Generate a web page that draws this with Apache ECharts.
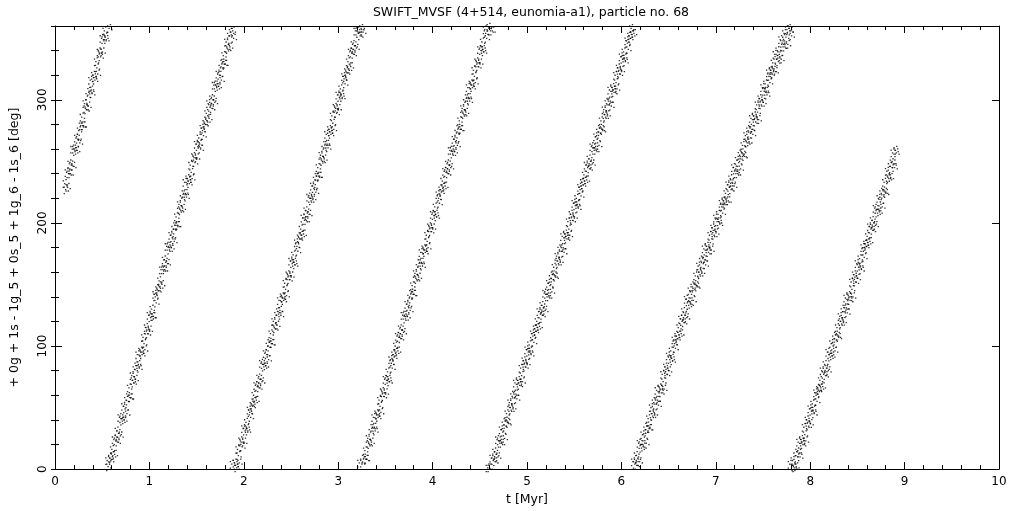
<!DOCTYPE html>
<html>
<head>
<meta charset="utf-8">
<script src="https://cdn.jsdelivr.net/npm/echarts@6/dist/echarts.min.js"></script>
<style>
html,body{margin:0;padding:0;background:#fff;}
#chart{width:1021px;height:511px;}
</style>
</head>
<body>
<div id="chart"></div>
<script>
// Chart text
const TITLE = 'SWIFT_MVSF (4+514, eunomia-a1), particle no. 68';
const X_NAME = 't [Myr]';
const Y_NAME = '+ 0g + 1s - 1g_5 + 0s_5 + 1g_6 - 1s_6 [deg]';

// Axis ranges / tick steps
const X_RANGE = [0, 10];
const Y_RANGE = [0, 360];
const X_MAJOR = 1;
const Y_MAJOR = 100;
const Y_MINOR = 20;

// Sampling grid of the time series (Myr): first sample and step
const T_START = 0.11;
const T_STEP = 0.01;

// Resonant angle [deg] at each sample (wrapped to 0..360)
const ANGLE = [
232,227,241,229,240,248,240,247,260,246,
260,258,269,259,268,275,265,279,286,279,
279,297,293,292,303,295,307,316,308,305,
320,318,316,331,326,321,339,338,335,350,
339,349,356,351,349,7,2,358,9,7,
16,11,24,12,23,31,22,29,42,27,
41,39,51,40,49,56,45,59,66,58,
58,76,72,70,81,73,84,93,85,82,
96,95,93,107,102,97,115,113,110,125,
113,123,130,124,124,142,140,135,146,145,
153,148,162,150,162,170,162,168,181,167,
181,178,190,180,188,195,185,198,205,198,
198,215,211,210,220,212,224,233,224,221,
236,234,232,247,241,236,254,253,249,264,
253,262,269,264,260,277,275,271,281,280,
289,283,297,285,294,301,293,300,312,298,
312,310,321,311,320,326,316,330,336,329,
329,347,342,341,352,343,355,4,356,350,
5,3,1,16,11,5,23,22,18,33,
22,31,38,33,31,48,46,42,52,51,
60,55,68,56,67,74,66,73,86,71,
85,83,94,84,93,100,89,103,110,102,
102,120,115,114,125,117,128,137,129,125,
140,139,137,151,146,141,158,157,154,169,
157,167,174,168,166,184,181,177,188,187,
195,190,204,191,202,210,202,208,221,207,
220,218,230,220,228,235,225,238,245,238,
238,255,251,250,260,252,264,272,264,261,
276,274,272,287,281,276,294,293,289,304,
293,302,309,304,302,319,317,313,323,322,
331,325,339,327,338,345,337,344,356,342,
356,354,5,352,358,5,355,9,15,8,
8,25,21,20,30,22,34,42,34,31,
45,44,42,56,51,46,63,62,59,73,
62,72,79,73,71,89,86,82,93,91,
100,95,108,96,107,114,106,113,125,111,
125,122,134,124,132,139,129,143,149,142,
142,159,155,154,164,156,168,176,168,165,
179,178,176,190,185,180,197,196,193,207,
196,206,213,207,205,223,220,216,227,225,
234,229,242,230,241,248,240,247,259,245,
259,256,268,258,266,273,263,277,283,276,
276,293,289,288,298,290,302,310,302,299,
313,312,310,324,319,314,331,330,327,341,
330,340,347,341,339,357,354,350,1,359,
1,356,9,356,7,14,6,12,24,10,
23,21,32,21,30,36,25,39,45,38,
37,54,50,48,59,50,61,70,61,57,
72,70,68,82,76,71,88,86,83,97,
86,95,101,96,93,110,108,103,114,112,
120,115,128,116,126,133,125,131,143,129,
142,140,151,140,149,155,144,158,164,157,
156,173,169,167,178,169,180,189,180,176,
191,189,187,201,195,190,207,205,202,216,
205,214,220,215,212,229,227,222,233,231,
239,234,247,235,245,252,244,250,262,248,
261,259,270,259,268,274,263,277,283,276,
275,292,288,286,297,288,299,308,299,295,
310,308,306,320,314,309,326,324,321,335,
324,333,339,334,331,348,346,341,352,350,
358,353,6,354,4,11,3,9,21,6,
20,17,28,18,26,32,21,35,41,33,
33,50,45,43,54,45,56,64,56,52,
66,65,62,77,71,65,83,81,77,92,
80,89,96,90,88,105,102,98,108,106,
115,109,122,110,120,128,119,125,138,123,
136,133,145,134,142,148,137,150,157,149,
148,165,160,158,169,160,171,179,170,166,
181,179,176,190,184,178,196,194,190,204,
192,201,207,201,199,216,213,208,218,216,
224,218,231,218,229,236,227,233,245,230,
243,240,251,240,249,255,244,257,263,255,
254,271,266,265,275,266,277,285,276,272,
287,285,282,296,290,284,301,299,296,310,
298,307,313,307,304,322,319,314,324,322,
330,324,337,323,333,340,331,337,349,333,
346,343,354,343,351,357,345,358,4,356,
352,7,2,1,11,2,14,22,13,10,
24,22,20,34,28,23,40,38,35,49,
37,47,53,48,45,62,60,55,65,64,
72,66,80,67,77,85,76,82,95,80,
93,91,102,92,100,106,96,109,115,108,
107,124,120,118,128,120,131,139,131,127,
141,140,137,152,146,140,158,156,152,167,
155,164,171,165,162,180,177,172,183,181,
189,184,197,185,195,202,194,200,212,198,
211,208,220,209,217,224,213,226,233,225,
224,242,237,236,246,237,249,257,248,245,
259,257
];

const TIME = ANGLE.map((_, i) => Math.round((T_START + i * T_STEP) * 1000) / 1000);
const POINTS = ANGLE.map((a, i) => [TIME[i], a]);

const FONT = 'DejaVu Sans';
const INK = '#000';
// marker: a small cluster of tiny dots, like the densely sampled output
const DOT_CLUSTER = 'path://M0 1h1v1H0z M2 0h1v1H2z M1 3h1v1H1z M3 4h1v1H3z M0 6h1v1H0z';

const chart = echarts.init(document.getElementById('chart'), null, {renderer: 'canvas'});

const line = {show: true, onZero: false, lineStyle: {color: INK, width: 1}};
const noLabel = {show: false};

chart.setOption({
  animation: false,
  backgroundColor: '#fff',
  title: {
    text: TITLE, left: 526, top: 1, textAlign: 'center',
    textStyle: {fontFamily: FONT, fontSize: 12.5, fontWeight: 'normal', color: INK}
  },
  grid: {left: 52, right: 22, top: 26, bottom: 37, containLabel: false},
  xAxis: [
    {
      type: 'value', position: 'bottom', min: X_RANGE[0], max: X_RANGE[1], interval: X_MAJOR,
      axisLine: line,
      axisTick: {show: true, inside: true, length: 7, lineStyle: {color: INK}},
      minorTick: {show: true, splitNumber: 5, length: 4, lineStyle: {color: INK}},
      splitLine: {show: false}, minorSplitLine: {show: false},
      axisLabel: {show: true, margin: 7, color: INK, fontFamily: FONT, fontSize: 12},
      name: X_NAME, nameLocation: 'middle', nameGap: 23,
      nameTextStyle: {color: INK, fontFamily: FONT, fontSize: 12.5}
    },
    {
      type: 'value', position: 'top', min: X_RANGE[0], max: X_RANGE[1], interval: X_MAJOR,
      axisLine: line,
      axisTick: {show: true, inside: true, length: 7, lineStyle: {color: INK}},
      minorTick: {show: true, splitNumber: 5, length: 4, lineStyle: {color: INK}},
      splitLine: {show: false}, axisLabel: noLabel
    }
  ],
  yAxis: [
    {
      type: 'value', position: 'left', min: Y_RANGE[0], max: Y_RANGE[1], interval: Y_MAJOR,
      axisLine: line,
      axisTick: {show: true, inside: true, length: 7, lineStyle: {color: INK}},
      splitLine: {show: false},
      axisLabel: {show: true, rotate: 90, margin: 6, showMaxLabel: false, color: INK, fontFamily: FONT, fontSize: 12},
      name: Y_NAME, nameLocation: 'middle', nameGap: 34,
      nameTextStyle: {color: INK, fontFamily: FONT, fontSize: 12.5}
    },
    {
      type: 'value', position: 'left', min: Y_RANGE[0], max: Y_RANGE[1], interval: Y_MINOR,
      axisLine: {show: false},
      axisTick: {show: true, inside: true, length: 4, lineStyle: {color: INK}},
      splitLine: {show: false}, axisLabel: noLabel
    },
    {
      type: 'value', position: 'right', min: Y_RANGE[0], max: Y_RANGE[1], interval: Y_MAJOR,
      axisLine: line,
      axisTick: {show: true, inside: true, length: 7, lineStyle: {color: INK}},
      splitLine: {show: false}, axisLabel: noLabel
    },
    {
      type: 'value', position: 'right', min: Y_RANGE[0], max: Y_RANGE[1], interval: Y_MINOR,
      axisLine: {show: false},
      axisTick: {show: true, inside: true, length: 4, lineStyle: {color: INK}},
      splitLine: {show: false}, axisLabel: noLabel
    }
  ],
  series: [{
    type: 'scatter',
    xAxisIndex: 0, yAxisIndex: 0,
    data: POINTS,
    symbol: DOT_CLUSTER,
    symbolSize: [5.5, 9],
    itemStyle: {color: INK},
    silent: true,
    clip: true
  }]
});
</script>
</body>
</html>
